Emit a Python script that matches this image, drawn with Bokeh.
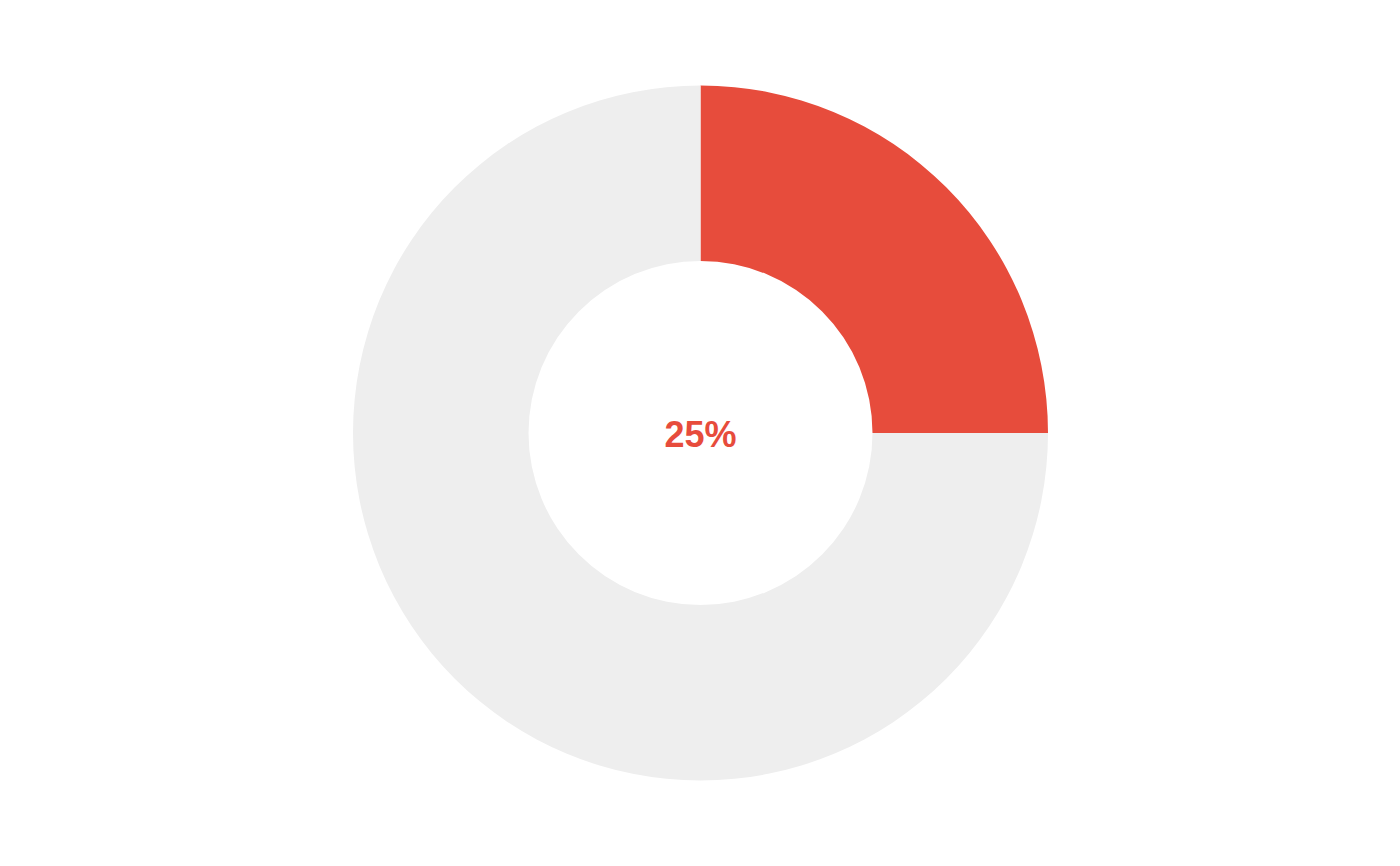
import math
from bokeh.plotting import figure
from bokeh.models import ColumnDataSource, Range1d
from bokeh.core.properties import value
from bokeh.embed import file_html
from bokeh.resources import INLINE

labels = ["Done", "Remaining"]
values = [25, 75]
colors = ["#E74C3C", "#EEEEEE"]
center_label = "25%"

total = sum(values)
starts, ends = [], []
a = math.pi / 2
for v in values:
    starts.append(a)
    a = a - 2 * math.pi * v / total
    ends.append(a)

src = ColumnDataSource(dict(label=labels, value=values, color=colors, start=starts, end=ends))

W, H = 1400, 866
p = figure(width=W, height=H, output_backend="svg", toolbar_location=None,
           x_range=Range1d(-W / 2, W / 2), y_range=Range1d(-H / 2 - 0.5, H / 2 - 0.5),
           min_border=0, outline_line_color=None)
p.axis.visible = False
p.grid.visible = False
p.background_fill_color = "white"
p.border_fill_color = "white"

p.annular_wedge(x=0, y=0, inner_radius=172, outer_radius=347.5,
                start_angle="start", end_angle="end", direction="clock",
                fill_color="color", line_color=None, source=src)

p.text(x=[0], y=[-1], text=[center_label], text_align="center", text_baseline="middle",
       text_font=value("Liberation Sans"), text_font_style="bold",
       text_font_size="36px", text_color="#E74C3C")

open("out.html", "w").write(file_html(p, INLINE))
